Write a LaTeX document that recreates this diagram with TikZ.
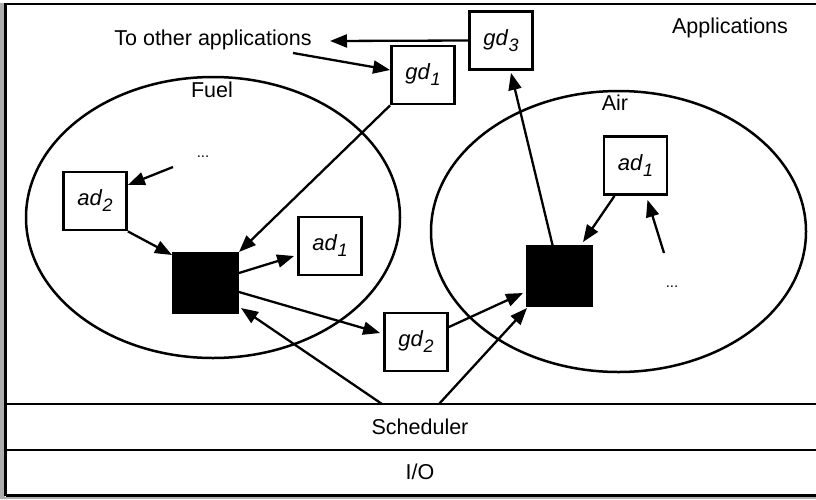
\documentclass[tikz,border=0pt]{standalone}
\usepackage{fontspec}
\setmainfont{Liberation Sans}
\usetikzlibrary{arrows.meta}
% italic label with a lowered italic index, e.g. gd_1
\newcommand{\sublab}[2]{\textit{#1}\raisebox{-6pt}{\fontsize{18}{18}\selectfont\textit{#2}}}

\begin{document}
\begin{tikzpicture}[x=1pt,y=-1pt,
  txt/.style={font=\fontsize{21.5}{24}\selectfont,inner sep=0pt},
  dots/.style={font=\fontsize{15}{18}\selectfont,inner sep=0pt},
  dbox/.style={draw,line width=2.8pt,minimum width=63pt,minimum height=58pt,
               inner sep=0pt,font=\fontsize{22}{24}\selectfont},
  blk/.style={fill=black,draw=black,line width=1pt,minimum width=66pt,
              minimum height=61pt,inner sep=0pt},
  arr/.style={line width=2.3pt,-{Triangle[length=17pt,width=13pt]}},
  domainline/.style={line width=2.5pt},
  frameline/.style={line width=2.6pt}]

\useasboundingbox (0,0) rectangle (816,499);
\fill[white] (0,0) rectangle (816,499);

% outer frame with the two lower layers
\begin{scope}
  \clip (0,0) rectangle (816,499);
  \fill[black!32] (0,3) rectangle (4.5,499);
  \fill[black!32] (0,497) rectangle (816,499);
  \draw[frameline] (5.75,496) -- (5.75,4) -- (830,4);
  \draw[frameline] (5.75,495.5) -- (830,495.5);
  \draw[line width=2pt] (5.75,404) -- (830,404);
  \draw[frameline] (5.75,450) -- (830,450);
\end{scope}

% layer labels
\node[txt] (apps)  at (730,28)  {Applications};
\node[txt] (sched) at (420,427) {Scheduler};
\node[txt] (io)    at (420,472) {I/O};
\node[txt] (other) at (213,40)  {To other applications};

% the two domains
\draw[domainline] (213,217.5) ellipse [x radius=187pt, y radius=140.5pt];
\draw[domainline] (618.5,231.5) ellipse [x radius=187.5pt, y radius=140.5pt];
\node[txt] (fuel) at (212,90)  {Fuel};
\node[txt] (air)  at (615,103) {Air};
\node[dots] (fdots) at (203,157) {...};
\node[dots] (adots) at (672,287) {...};

% drivers
\node[dbox] (gd1)  at (423,75)    {\sublab{gd}{1}};
\node[dbox] (gd3)  at (501,40.5)  {\sublab{gd}{3}};
\node[dbox] (gd2)  at (416,342)   {\sublab{gd}{2}};
\node[dbox] (ad2)  at (95,201)    {\sublab{ad}{2}};
\node[dbox] (ad1f) at (330,246)   {\sublab{ad}{1}};
\node[dbox] (ad1a) at (635.5,165.5) {\sublab{ad}{1}};

% domain kernels
\node[blk] (fb) at (205.5,283) {};
\node[blk] (ab) at (559.5,276) {};

% free ends of connectors
\coordinate (toother) at (330,41);
\coordinate (fromother) at (293,53);
\coordinate (fdotsend) at (173,167);
\coordinate (adotsend) at (664,253);
\coordinate (s1) at (382,404);
\coordinate (s2) at (439,404);

% connectors
\draw[arr] (gd3.west) -- (toother);
\draw[arr] (fromother) -- ([yshift=5pt]gd1.west);
\draw[arr] (gd1.south west) -- (fb.north east);
\draw[arr] (fdotsend) -- (ad2.26);
\draw[arr] (ad2.south east) -- ([yshift=-3pt]fb.north west);
\draw[arr] ([yshift=10pt]fb.east) -- ([xshift=-3pt,yshift=-10pt]ad1f.west);
\draw[arr] ([yshift=-9pt]fb.east) -- ([xshift=-3pt,yshift=9pt]gd2.west);
\draw[arr] ([yshift=15pt]gd2.east) -- ([xshift=-3pt,yshift=-17pt]ab.west);
\draw[arr] (s1) -- ([xshift=2pt,yshift=6pt]fb.south east);
\draw[arr] (s2) -- ([xshift=1pt,yshift=-1pt]ab.south west);
\draw[arr] ([xshift=-7pt]ab.north) -- ([xshift=10pt,yshift=-2pt]gd3.south);
\draw[arr] ([xshift=-21pt]ad1a.south) -- ([xshift=-10pt,yshift=3pt]ab.north east);
\draw[arr] (adotsend) -- ([xshift=12pt,yshift=-4pt]ad1a.south);
\end{tikzpicture}
\end{document}
